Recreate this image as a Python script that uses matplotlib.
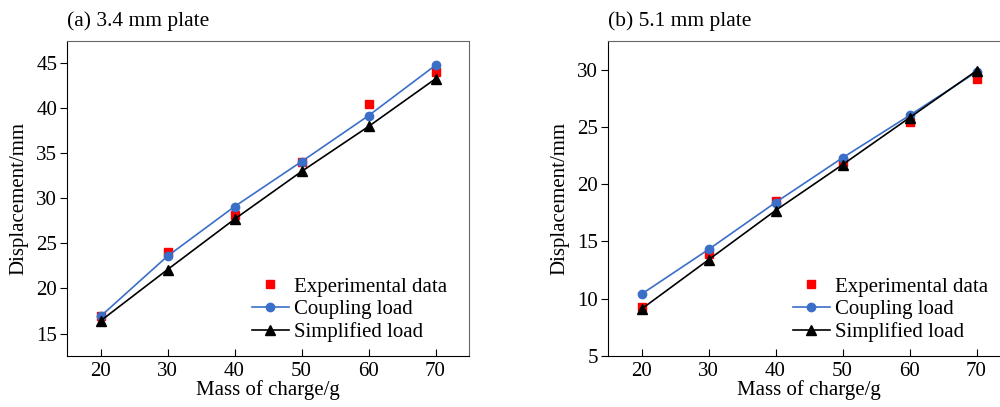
import matplotlib
matplotlib.use("Agg")
import matplotlib.pyplot as plt

plt.rcParams['font.family'] = ['Liberation Serif', 'DejaVu Serif']
plt.rcParams['font.size'] = 15

charge = [20, 30, 40, 50, 60, 70]

# (a) 3.4 mm plate
exp_a = [17.0, 24.0, 28.2, 34.0, 40.5, 44.0]
coup_a = [16.9, 23.6, 29.1, 34.1, 39.2, 44.8]
simp_a = [16.4, 22.1, 27.7, 33.0, 38.0, 43.3]

# (b) 5.1 mm plate
exp_b = [9.3, 13.9, 18.5, 21.9, 25.4, 29.2]
coup_b = [10.4, 14.3, 18.4, 22.3, 26.0, 29.8]
simp_b = [9.1, 13.4, 17.7, 21.7, 25.8, 29.9]

panels = [
    ("(a) 3.4 mm plate", exp_a, coup_a, simp_a, (12.5, 47.5), [15, 20, 25, 30, 35, 40, 45]),
    ("(b) 5.1 mm plate", exp_b, coup_b, simp_b, (5, 32.5), [5, 10, 15, 20, 25, 30]),
]
positions = [[0.067, 0.1253, 0.402, 0.774], [0.608, 0.1253, 0.402, 0.774]]

fig = plt.figure(figsize=(10, 4.07), dpi=100)

for (title, exp, coup, simp, ylim, yticks), pos in zip(panels, positions):
    ax = fig.add_axes(pos)
    ax.plot(charge, coup, color='#3a6fc8', marker='o', markersize=6, linewidth=1.2,
            label='Coupling load', zorder=3)
    ax.plot(charge, simp, color='black', marker='^', markersize=6.5, linewidth=1.2,
            label='Simplified load', zorder=4)
    ax.plot(charge, exp, color='#ff0000', marker='s', markersize=6, linestyle='none',
            label='Experimental data', zorder=2)

    ax.set_xlim(15, 75)
    ax.set_ylim(*ylim)
    ax.set_xticks(charge)
    ax.set_yticks(yticks)
    ax.tick_params(axis='x', direction='in', length=5, top=False, pad=4)
    ax.tick_params(axis='y', direction='out', length=5, right=False, pad=2)
    for side in ['top', 'right']:
        ax.spines[side].set_color('#666666')
    ax.set_xlabel("Mass of charge/g", labelpad=0)
    ax.set_ylabel("Displacement/mm", labelpad=6)
    ax.set_title(title, loc='left', pad=11, fontsize=15.5)

    handles, labels = ax.get_legend_handles_labels()
    order = [2, 0, 1]
    ax.legend([handles[i] for i in order], [labels[i] for i in order],
              loc='lower right', bbox_to_anchor=(0.98, 0.0), frameon=False,
              handlelength=1.8, handletextpad=0.25, labelspacing=0.15,
              borderaxespad=0.25)

fig.savefig("out.png", dpi=100)
